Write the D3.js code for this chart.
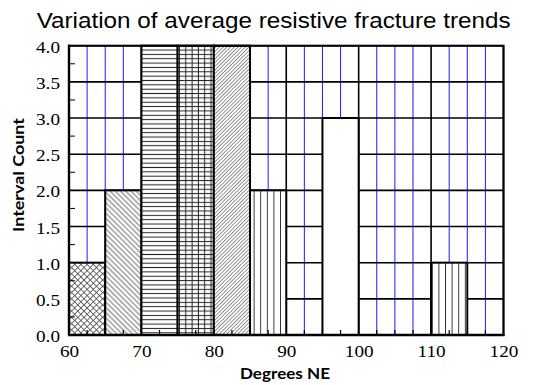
<!DOCTYPE html>
<html>
<head>
<meta charset="utf-8">
<script src="https://cdn.jsdelivr.net/npm/d3@7"></script>
<style>
  html, body { margin: 0; padding: 0; background: #fff; }
  svg { display: block; }
</style>
</head>
<body>
<div id="chart"></div>
<script>
// Histogram bins (degrees NE) and their interval counts
const binStarts = [60, 65, 70, 75, 80, 85, 90, 95, 100, 105, 110, 115];
const binWidth = 5;
const counts = [1, 2, 4, 4, 4, 2, 0, 3, 0, 0, 1, 0];

// Axis ticks
const xTickValues = [60, 70, 80, 90, 100, 110, 120];
const yTickValues = [0, 0.5, 1, 1.5, 2, 2.5, 3, 3.5, 4];
const yTickLabels = ["0.0", "0.5", "1.0", "1.5", "2.0", "2.5", "3.0", "3.5", "4.0"];

const titleText = "Variation of average resistive fracture trends";
const xTitle = "Degrees NE";
const yTitle = "Interval Count";

const W = 536, H = 385;
const svg = d3.select("#chart").append("svg").attr("width", W).attr("height", H);

const x = d3.scaleLinear().domain([60, 120]).range([69, 503.5]);
const y = d3.scaleLinear().domain([0, 4]).range([335, 45.7]);

// Fill pattern for each bin, in bin order
const binFill = ["cross", "back", "horiz", "grid", "fwd", "vert", "plain", "plain", "plain", "plain", "vert", "plain"];

const defs = svg.append("defs");
function linePattern(id, size, rotate, color, width, extra) {
  const p = defs.append("pattern").attr("id", id)
    .attr("patternUnits", "userSpaceOnUse")
    .attr("width", size).attr("height", size);
  if (rotate) p.attr("patternTransform", `rotate(${rotate})`);
  p.append("rect").attr("width", size).attr("height", size).attr("fill", "#fff");
  p.append("line").attr("x1", 0).attr("x2", size).attr("y1", size / 2).attr("y2", size / 2)
    .attr("stroke", color).attr("stroke-width", width);
  if (extra) extra(p);
  return p;
}
// horizontal lines
linePattern("horiz", 4.35, 0, "#222", 1);
// vertical lines
linePattern("vert", 6.6, 90, "#333", 1);
// "\" diagonal
linePattern("back", 3.7, 45, "#444", 0.8);
// "/" diagonal, denser
linePattern("fwd", 2.6, -45, "#666", 0.7);
// diagonal crosshatch
linePattern("cross", 4.4, 45, "#444", 0.75, p => {
  p.append("line").attr("x1", 2.2).attr("x2", 2.2).attr("y1", 0).attr("y2", 4.4)
    .attr("stroke", "#444").attr("stroke-width", 0.75);
});
// square grid: horizontal 4.35, vertical 6.3
(function () {
  const p = defs.append("pattern").attr("id", "grid")
    .attr("patternUnits", "userSpaceOnUse").attr("width", 6.3).attr("height", 4.35);
  p.append("rect").attr("width", 6.3).attr("height", 4.35).attr("fill", "#fff");
  p.append("line").attr("x1", 0).attr("x2", 6.3).attr("y1", 2.2).attr("y2", 2.2)
    .attr("stroke", "#222").attr("stroke-width", 1);
  p.append("line").attr("x1", 3.1).attr("x2", 3.1).attr("y1", 0).attr("y2", 4.35)
    .attr("stroke", "#222").attr("stroke-width", 1);
})();

// Plot background
svg.append("rect").attr("x", x(60)).attr("y", y(4))
  .attr("width", x(120) - x(60)).attr("height", y(0) - y(4)).attr("fill", "#fff");

// Minor vertical gridlines (blue) every 2.5
const minorX = d3.range(62.5, 120, 2.5).filter(v => v % 10 !== 0);
svg.append("g").selectAll("line").data(minorX).join("line")
  .attr("x1", d => x(d)).attr("x2", d => x(d))
  .attr("y1", y(0)).attr("y2", y(4))
  .attr("stroke", "#1a1aff").attr("stroke-width", 1);

// Major gridlines (black)
svg.append("g").selectAll("line").data(yTickValues).join("line")
  .attr("x1", x(60)).attr("x2", x(120))
  .attr("y1", d => y(d)).attr("y2", d => y(d))
  .attr("stroke", "#000").attr("stroke-width", 1.6);
svg.append("g").selectAll("line").data(xTickValues).join("line")
  .attr("x1", d => x(d)).attr("x2", d => x(d))
  .attr("y1", y(0)).attr("y2", y(4))
  .attr("stroke", "#000").attr("stroke-width", 1.6);

// Bars
const bins = binStarts.map((s, i) => ({ s, c: counts[i], fill: binFill[i] })).filter(d => d.c > 0);
svg.append("g").selectAll("rect").data(bins).join("rect")
  .attr("x", d => x(d.s)).attr("y", d => y(d.c))
  .attr("width", d => x(d.s + binWidth) - x(d.s))
  .attr("height", d => y(0) - y(d.c))
  .attr("fill", d => d.fill === "plain" ? "#fff" : `url(#${d.fill})`)
  .attr("stroke", "#000").attr("stroke-width", 2);

// Minor tick marks (inward)
const minorY = d3.range(0.25, 4, 0.5);
svg.append("g").selectAll("line").data(minorY).join("line")
  .attr("x1", x(60)).attr("x2", x(60) + 6)
  .attr("y1", d => y(d)).attr("y2", d => y(d))
  .attr("stroke", "#000").attr("stroke-width", 1);
svg.append("g").selectAll("line").data(minorX).join("line")
  .attr("x1", d => x(d)).attr("x2", d => x(d))
  .attr("y1", y(0)).attr("y2", y(0) - 5)
  .attr("stroke", "#000").attr("stroke-width", 1.2);

// Frame
svg.append("rect").attr("x", x(60)).attr("y", y(4))
  .attr("width", x(120) - x(60)).attr("height", y(0) - y(4))
  .attr("fill", "none").attr("stroke", "#000").attr("stroke-width", 2);
// Axis lines (heavier)
svg.append("line").attr("x1", x(60) - 1).attr("x2", x(120) + 1).attr("y1", y(0)).attr("y2", y(0))
  .attr("stroke", "#000").attr("stroke-width", 2.6);
svg.append("line").attr("x1", x(60)).attr("x2", x(60)).attr("y1", y(4) - 1).attr("y2", y(0))
  .attr("stroke", "#000").attr("stroke-width", 2.4);

// Axes with d3 (labels only; lines drawn above)
const serif = "'Liberation Serif', 'Times New Roman', Times, serif";
const stretch = 1.2;
function widen(sel) {
  sel.each(function () {
    const w = this.getComputedTextLength();
    d3.select(this).attr("textLength", w * stretch).attr("lengthAdjust", "spacingAndGlyphs");
  });
}

const xAxis = d3.axisBottom(x).tickValues(xTickValues).tickSize(0).tickPadding(0).tickFormat(d3.format("d"));
const gx = svg.append("g").attr("transform", `translate(0,${y(0)})`).call(xAxis)
  .attr("font-family", null).attr("font-size", null);
gx.select(".domain").remove();
gx.selectAll("text").attr("y", 22).attr("dy", null)
  .style("font-family", serif).style("font-size", "16px").attr("fill", "#000").call(widen);

const yAxis = d3.axisLeft(y).tickValues(yTickValues).tickSize(0).tickPadding(0)
  .tickFormat((d, i) => yTickLabels[i]);
const gy = svg.append("g").attr("transform", `translate(${x(60)},0)`).call(yAxis)
  .attr("font-family", null).attr("font-size", null);
gy.select(".domain").remove();
gy.selectAll("text").attr("x", -9).attr("dy", null).attr("y", 6.5)
  .style("font-family", serif).style("font-size", "16px").attr("fill", "#000").call(widen);

// Titles
svg.append("text").attr("x", 36.7).attr("y", 28.3)
  .style("font-family", "'Liberation Sans', Arial, sans-serif").style("font-size", "21.8px")
  .attr("textLength", 474).attr("lengthAdjust", "spacingAndGlyphs")
  .attr("fill", "#000").text(titleText);

svg.append("text").attr("x", 240).attr("y", 378.5)
  .style("font-family", "Lato, 'Open Sans', sans-serif").style("font-weight", "bold").style("font-size", "15.5px")
  .attr("textLength", 90).attr("lengthAdjust", "spacingAndGlyphs")
  .attr("fill", "#000").text(xTitle);

svg.append("text").attr("transform", "translate(23.5,232) rotate(-90)")
  .style("font-family", "Lato, 'Open Sans', sans-serif").style("font-weight", "bold").style("font-size", "15.5px")
  .attr("textLength", 114).attr("lengthAdjust", "spacingAndGlyphs")
  .attr("fill", "#000").text(yTitle);
</script>
</body>
</html>
